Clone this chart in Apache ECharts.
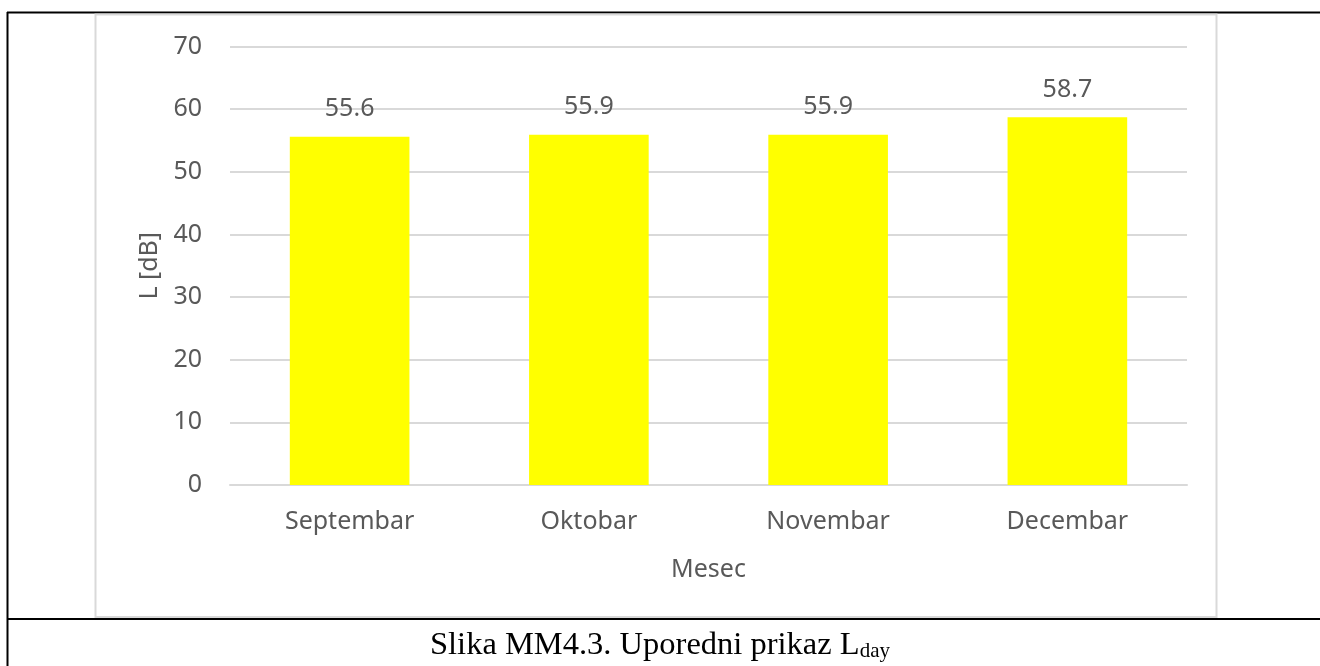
<!DOCTYPE html>
<html>
<head>
<meta charset="utf-8">
<title>Slika MM4.3</title>
<script src="https://cdn.jsdelivr.net/npm/echarts@6/dist/echarts.min.js"></script>
<style>
  html, body { margin: 0; padding: 0; background: #fff; }
  #chart { width: 1320px; height: 666px; }
</style>
</head>
<body>
<div id="chart"></div>
<script>
// meseci (x osa)
const categories = ['Septembar', 'Oktobar', 'Novembar', 'Decembar']
// L day vrednosti u dB
const values = [55.6, 55.9, 55.9, 58.7]
// y osa
const yMin = 0
const yMax = 70
const yStep = 10

const textColor = '#595959'
const gridColor = '#d9d9d9'
const labelFont = 'Noto Sans'

const chart = echarts.init(document.getElementById('chart'), null, { renderer: 'canvas' })

chart.setOption({
  animation: false,
  backgroundColor: '#fff',
  title: {
    text: '{a|Slika MM4.3. Uporedni prikaz L}{b|day}',
    left: 'center',
    top: 630,
    padding: 0,
    textStyle: {
      fontWeight: 'normal',
      rich: {
        a: {
          fontFamily: 'Liberation Serif',
          fontSize: 32.5,
          fontWeight: 'normal',
          lineHeight: 32,
          color: '#000',
          verticalAlign: 'bottom'
        },
        b: {
          fontFamily: 'Liberation Serif',
          fontSize: 21,
          fontWeight: 'normal',
          lineHeight: 21,
          color: '#000',
          verticalAlign: 'bottom'
        }
      }
    }
  },
  // okvir tabele i okvir grafika
  graphic: [
    {
      type: 'line',
      shape: { x1: 7.5, y1: 12, x2: 7.5, y2: 666 },
      style: { stroke: '#000', lineWidth: 2 }
    },
    {
      type: 'line',
      shape: { x1: 7, y1: 12.5, x2: 1320, y2: 12.5 },
      style: { stroke: '#000', lineWidth: 2 }
    },
    {
      type: 'line',
      shape: { x1: 7, y1: 619, x2: 1320, y2: 619 },
      style: { stroke: '#000', lineWidth: 2 }
    },
    {
      type: 'rect',
      shape: { x: 95.5, y: 14.5, width: 1121, height: 602.5 },
      style: { fill: 'none', stroke: gridColor, lineWidth: 2 }
    }
  ],
  grid: {
    left: 230,
    right: 133,
    top: 46.5,
    bottom: 181,
    containLabel: false
  },
  xAxis: {
    type: 'category',
    data: categories,
    name: 'Mesec',
    nameLocation: 'middle',
    nameGap: 72,
    nameTextStyle: {
      color: textColor,
      fontFamily: labelFont,
      fontSize: 25
    },
    axisLine: {
      lineStyle: { color: gridColor, width: 2 }
    },
    axisTick: { show: false },
    axisLabel: {
      color: textColor,
      fontFamily: labelFont,
      fontSize: 25,
      margin: 24
    }
  },
  yAxis: {
    type: 'value',
    min: yMin,
    max: yMax,
    interval: yStep,
    name: 'L [dB]',
    nameLocation: 'middle',
    nameGap: 68,
    nameTextStyle: {
      color: textColor,
      fontFamily: labelFont,
      fontSize: 25
    },
    axisLine: { show: false },
    axisTick: { show: false },
    axisLabel: {
      color: textColor,
      fontFamily: labelFont,
      fontSize: 25,
      margin: 28
    },
    splitLine: {
      lineStyle: { color: gridColor, width: 2 }
    }
  },
  series: [
    {
      name: 'L day',
      type: 'bar',
      data: values,
      barWidth: '50%',
      itemStyle: { color: '#ffff00' },
      label: {
        show: true,
        position: 'top',
        distance: 15,
        color: textColor,
        fontFamily: labelFont,
        fontSize: 25
      }
    }
  ]
})
</script>
</body>
</html>
